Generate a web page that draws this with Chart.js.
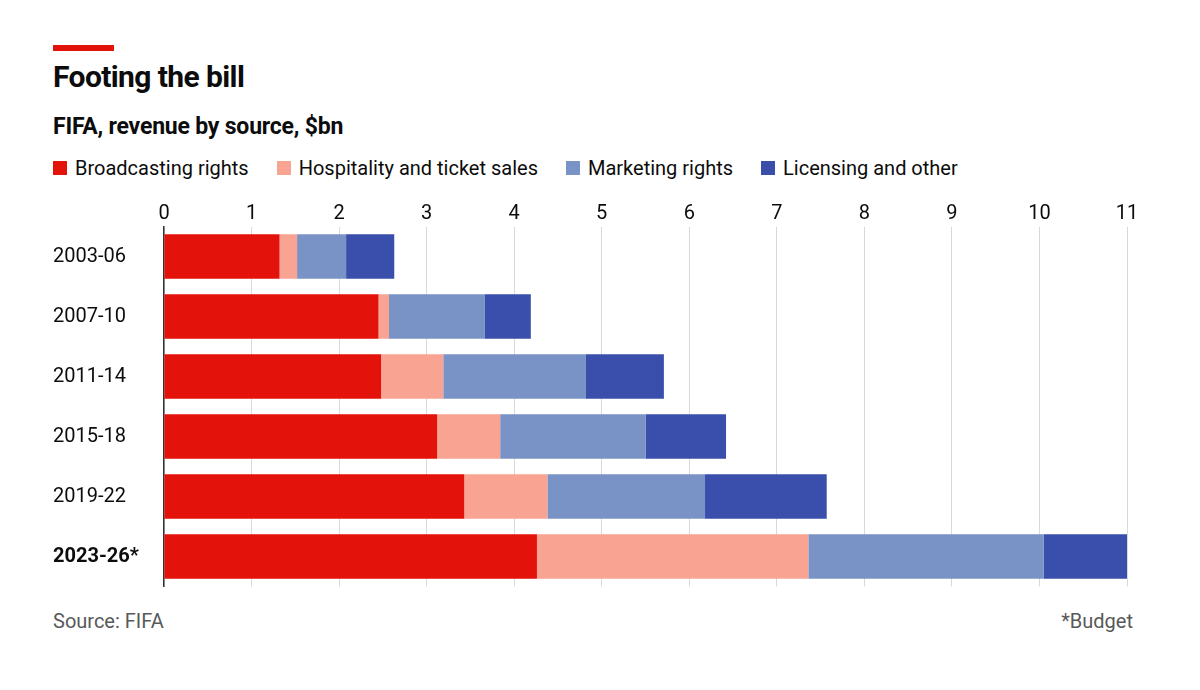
<!DOCTYPE html>
<html>
<head>
<meta charset="utf-8">
<script src="https://cdn.jsdelivr.net/npm/chart.js@4/dist/chart.umd.min.js"></script>
<style>
  body { margin: 0; background: #fff; font-family: Roboto, "Noto Sans", sans-serif; color: #0c0c0c; }
  #page { position: relative; width: 1200px; height: 690px; overflow: hidden; }
  .rule { position: absolute; left: 53px; top: 45px; width: 61px; height: 6px; background: #e3120b; }
  .title { position: absolute; left: 53px; top: 59px; font-size: 30px; font-weight: 700; letter-spacing: -0.6px; line-height: 36px; }
  .subtitle { position: absolute; left: 53px; top: 112px; font-size: 23px; font-weight: 700; letter-spacing: -0.2px; line-height: 30px; }
  #legend { position: absolute; left: 53px; top: 155px; display: flex; font-size: 20px; line-height: 26px; }
  #legend .item { display: flex; align-items: center; margin-right: 28px; }
  #legend .sw { width: 14px; height: 14px; margin-right: 8px; }
  #chartBox { position: absolute; left: 0; top: 190px; }
  .foot { position: absolute; top: 608px; font-size: 20px; color: #595959; line-height: 26px; }
</style>
</head>
<body>
<div id="page">
  <div class="rule"></div>
  <div class="title">Footing the bill</div>
  <div class="subtitle">FIFA, revenue by source, $bn</div>
  <div id="legend"></div>
  <div id="chartBox"><canvas id="chart" width="1200" height="400"></canvas></div>
  <div class="foot" style="left:53px">Source: FIFA</div>
  <div class="foot" style="right:67px">*Budget</div>
</div>
<script>
// Data, $bn
const periods = ['2003-06', '2007-10', '2011-14', '2015-18', '2019-22', '2023-26*'];
const broadcasting = [1.32, 2.45, 2.48, 3.12, 3.43, 4.26];
const hospitality = [0.20, 0.12, 0.71, 0.72, 0.95, 3.10];
const marketing = [0.56, 1.09, 1.63, 1.66, 1.80, 2.69];
const licensing = [0.55, 0.53, 0.89, 0.92, 1.39, 0.95];
const xTicks = [0, 1, 2, 3, 4, 5, 6, 7, 8, 9, 10, 11];

const seriesNames = ['Broadcasting rights', 'Hospitality and ticket sales', 'Marketing rights', 'Licensing and other'];
const seriesValues = [broadcasting, hospitality, marketing, licensing];
const seriesColors = ['#e3120b', '#f9a493', '#7a93c6', '#3a4fab'];

// Legend
const legend = document.getElementById('legend');
seriesNames.forEach((name, i) => {
  const item = document.createElement('div');
  item.className = 'item';
  item.innerHTML = `<span class="sw" style="background:${seriesColors[i]}"></span>${name}`;
  legend.appendChild(item);
});

const ctx = document.getElementById('chart').getContext('2d');
new Chart(ctx, {
  type: 'bar',
  data: {
    labels: periods,
    datasets: seriesNames.map((name, i) => ({
      label: name,
      data: seriesValues[i],
      backgroundColor: seriesColors[i],
      borderWidth: 0,
      categoryPercentage: 1,
      barPercentage: 0.74
    }))
  },
  options: {
    indexAxis: 'y',
    responsive: false,
    animation: false,
    layout: { padding: { left: 53, right: 73, top: 0, bottom: 3.5 } },
    plugins: { legend: { display: false }, tooltip: { enabled: false } },
    scales: {
      x: {
        position: 'top',
        stacked: true,
        min: 0,
        max: 11,
        afterBuildTicks: s => { s.ticks = xTicks.map(v => ({ value: v })); },
        afterFit: s => { s.height = 36.5; },
        grid: { color: '#d9d9d9', lineWidth: 1, drawTicks: false },
        border: { display: false },
        ticks: { padding: 1, color: '#0c0c0c', font: { family: 'Roboto', size: 20 } }
      },
      y: {
        stacked: true,
        afterFit: s => { s.width = 111; s.paddingTop = 0; s.paddingBottom = 0; },
        grid: { display: false },
        border: { display: true, color: '#333', width: 1.5 },
        ticks: {
          crossAlign: 'far',
          color: '#0c0c0c',
          font: c => ({ family: 'Roboto', size: 20, weight: c.index === periods.length - 1 ? 'bold' : 'normal' })
        }
      }
    }
  }
});
</script>
</body>
</html>
